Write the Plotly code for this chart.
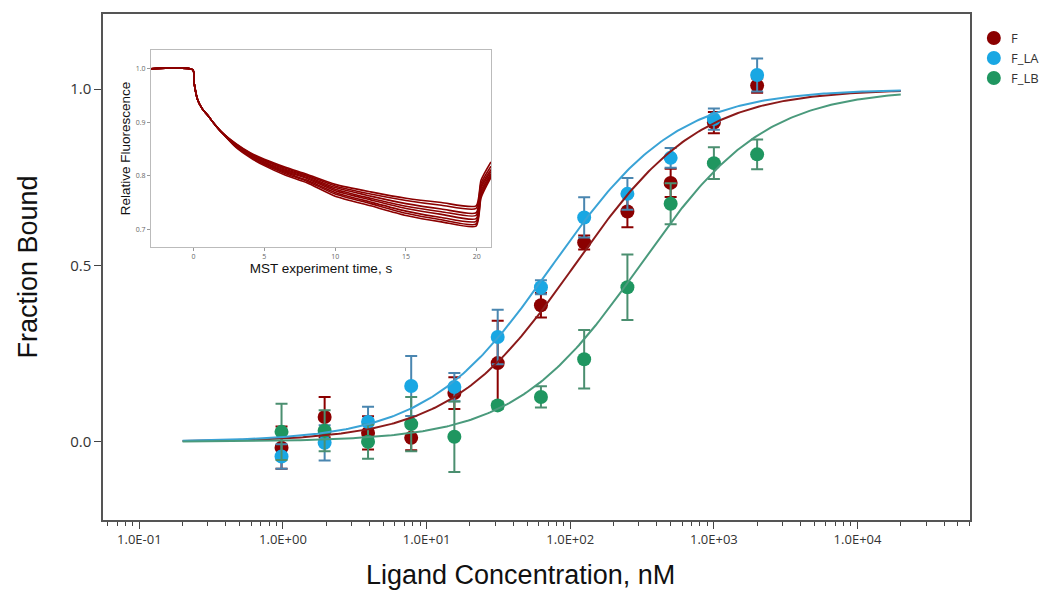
# -*- coding: utf-8 -*-
import numpy as np
import plotly.graph_objects as go

# ---- binding data (fraction bound vs ligand concentration, nM)
conc = [0.977, 1.95, 3.91, 7.81, 15.6, 31.25, 62.5, 125, 250, 500, 1000, 2000]

f_val = [-0.017, 0.07, 0.025, 0.011, 0.138, 0.223, 0.387, 0.565, 0.653, 0.734, 0.905, 1.01]
f_err = [0.06, 0.057, 0.047, 0.035, 0.045, 0.12, 0.035, 0.02, 0.045, 0.04, 0.03, 0.02]

fla_val = [-0.042, -0.003, 0.056, 0.158, 0.155, 0.297, 0.438, 0.636, 0.703, 0.805, 0.915, 1.04]
fla_err = [0.035, 0.05, 0.043, 0.085, 0.04, 0.077, 0.02, 0.057, 0.045, 0.028, 0.03, 0.047]

flb_val = [0.028, 0.031, 0.0, 0.05, 0.014, 0.103, 0.127, 0.234, 0.438, 0.675, 0.79, 0.815]
flb_err = [0.08, 0.058, 0.048, 0.077, 0.1, 0.01, 0.03, 0.083, 0.093, 0.058, 0.045, 0.042]

# fitted Kd (nM) for each series
kd_fit = {"F": 107, "F_LA": 75, "F_LB": 305}
fit_range = [0.2, 20000]

x_tickvals = [0.1, 1, 10, 100, 1000, 10000]
x_ticktext = ["1.0E-01", "1.0E+00", "1.0E+01", "1.0E+02", "1.0E+03", "1.0E+04"]
y_tickvals = [0, 0.5, 1.0]
y_ticktext = ["0.0", "0.5", "1.0"]

# ---- MST traces for the inset (relative fluorescence vs time, s)
mst_time = [-3, -0.05, 0.05, 0.3, 0.6, 1, 1.5, 2, 3, 4, 5, 6.5, 8, 10, 12.5, 15, 17.5, 19.95, 20.3, 21]
mst_early = [1.0, 0.998, 0.972, 0.941, 0.926, 0.913, 0.896, 0.881]
mst_late = [
    [0.860, 0.843, 0.831, 0.816, 0.803, 0.784, 0.770, 0.758, 0.750, 0.744, 0.792, 0.826],
    [0.859, 0.842, 0.829, 0.814, 0.801, 0.781, 0.766, 0.754, 0.745, 0.739, 0.786, 0.818],
    [0.858, 0.841, 0.828, 0.812, 0.799, 0.778, 0.762, 0.748, 0.738, 0.731, 0.781, 0.812],
    [0.857, 0.840, 0.826, 0.810, 0.797, 0.775, 0.758, 0.743, 0.733, 0.726, 0.777, 0.808],
    [0.856, 0.839, 0.825, 0.808, 0.795, 0.772, 0.755, 0.739, 0.728, 0.720, 0.772, 0.804],
    [0.855, 0.837, 0.823, 0.806, 0.792, 0.769, 0.751, 0.734, 0.722, 0.715, 0.768, 0.801],
    [0.854, 0.836, 0.821, 0.804, 0.790, 0.766, 0.748, 0.730, 0.718, 0.710, 0.763, 0.799],
    [0.853, 0.834, 0.819, 0.801, 0.787, 0.762, 0.744, 0.726, 0.714, 0.706, 0.759, 0.797],
]
cold_region = [-1, 0]
hot_region = [9, 10]

colors = {"F": "#8b0000", "F_LA": "#19a7e3", "F_LB": "#1f9660"}
line_colors = {"F": "#8b1a1a", "F_LA": "#3aa3d6", "F_LB": "#4a9a7c"}
err_colors = {"F": "#8b0000", "F_LA": "#4a86b0", "F_LB": "#4b8f70"}

series = [("F", f_val, f_err), ("F_LA", fla_val, fla_err), ("F_LB", flb_val, flb_err)]

fig = go.Figure()

# ------------------------------------------------------------------------
for name, vals, errs in series:
    fig.add_trace(go.Scatter(
        x=conc, y=vals, mode="markers", name=name, showlegend=False,
        marker=dict(size=14, color=colors[name]),
        error_y=dict(type="data", array=errs, visible=True,
                     color=err_colors[name], thickness=2, width=6),
        xaxis="x", yaxis="y"))

xfit = np.logspace(np.log10(fit_range[0]), np.log10(fit_range[1]), 300)
for name, _, _ in series:
    kd = kd_fit[name]
    fig.add_trace(go.Scatter(
        x=xfit, y=xfit / (kd + xfit), mode="lines", showlegend=False,
        line=dict(color=line_colors[name], width=2),
        hoverinfo="skip", xaxis="x", yaxis="y"))

# ------------------------------------------------------------------------
for trace in mst_late:
    fig.add_trace(go.Scatter(
        x=mst_time, y=mst_early + trace, mode="lines", showlegend=False,
        line=dict(color="#8b0000", width=1.6, shape="spline", smoothing=0.6),
        xaxis="x2", yaxis="y2"))

fig.add_shape(type="rect", xref="x2", yref="y2 domain", x0=cold_region[0], x1=cold_region[1],
              y0=0, y1=1, fillcolor="#9a9aff", line_width=0, layer="below")
fig.add_shape(type="rect", xref="x2", yref="y2 domain", x0=hot_region[0], x1=hot_region[1],
              y0=0, y1=1, fillcolor="#ff9c9c", line_width=0, layer="below")

# legend drawn in the right margin
legend_y = [0.9526, 0.913, 0.8735]
for (name, _, _), ly in zip(series, legend_y):
    fig.add_shape(type="circle", xref="paper", yref="paper",
                  xsizemode="pixel", ysizemode="pixel", xanchor=1.0275, yanchor=ly,
                  x0=-7, x1=7, y0=-7, y1=7, fillcolor=colors[name], line_width=0)
    fig.add_annotation(x=1.0448, y=ly, xref="paper", yref="paper", text=name,
                       showarrow=False, xanchor="left", yanchor="middle",
                       font=dict(size=13, color="#333"))

main_font = "Open Sans, Noto Sans, sans-serif"
title_font = dict(family="Liberation Sans, Arial", size=27, color="#111")
inset_title_font = dict(family="Liberation Sans, Arial", size=13.5, color="#111")

fig.add_annotation(x=0.481, y=-0.108, xref="paper", yref="paper",
                   text="Ligand Concentration, nM", showarrow=False,
                   xanchor="center", yanchor="middle", font=title_font)

# the page adds an 8px body margin: keep the figure inside the window (no scrollbars)
fig.update_layout(
    width=1033, height=589,
    margin=dict(l=95, r=71, t=6, b=77, autoexpand=False),
    paper_bgcolor="white", plot_bgcolor="white",
    font=dict(family=main_font, color="#333"),
    showlegend=False,
    xaxis=dict(type="log", range=[-1.253, 4.783], domain=[0, 1], automargin=False,
               tickvals=x_tickvals, ticktext=x_ticktext,
               tickfont=dict(size=13, color="#333"),
               ticks="outside", ticklen=7, tickcolor="#444", tickwidth=1.2,
               minor=dict(ticks="outside", ticklen=4, dtick="D1", tickcolor="#444"),
               showline=True, linecolor="#555", linewidth=1.5, mirror=True,
               showgrid=False, zeroline=False),
    yaxis=dict(range=[-0.222, 1.213], domain=[0, 1], automargin=False,
               tickvals=y_tickvals, ticktext=y_ticktext,
               tickfont=dict(size=15, color="#333"),
               ticks="outside", ticklen=7, tickcolor="#444", tickwidth=1.2,
               showline=True, linecolor="#555", linewidth=1.5, mirror=True,
               showgrid=False, zeroline=False,
               title=dict(text="Fraction Bound", font=title_font, standoff=25)),
    xaxis2=dict(range=[-3, 21], domain=[0.0554, 0.4475], anchor="y2", automargin=False,
                tickvals=[0, 5, 10, 15, 20], tickfont=dict(size=7, color="#666"),
                ticks="outside", ticklen=3, tickcolor="#999",
                showline=True, linecolor="#bbb", linewidth=1, mirror=True,
                showgrid=False, zeroline=False,
                title=dict(text="MST experiment time, s", font=inset_title_font, standoff=3)),
    yaxis2=dict(range=[0.667, 1.035], domain=[0.5395, 0.9289], anchor="x2", automargin=False,
                tickvals=[0.7, 0.8, 0.9, 1.0], ticktext=["0.7", "0.8", "0.9", "1.0"],
                tickfont=dict(size=7, color="#666"),
                ticks="outside", ticklen=3, tickcolor="#999",
                showline=True, linecolor="#bbb", linewidth=1, mirror=True,
                showgrid=False, zeroline=False,
                title=dict(text="Relative Fluorescence", font=inset_title_font, standoff=2)),
)

fig.write_html("out.html")
